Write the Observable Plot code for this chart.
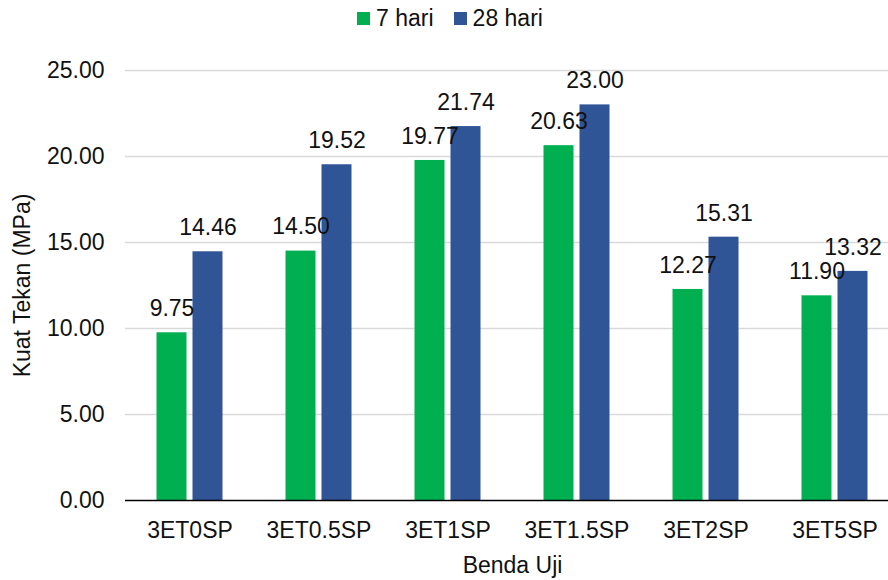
<!DOCTYPE html>
<html>
<head>
<meta charset="utf-8">
<script src="https://cdn.jsdelivr.net/npm/d3@7"></script>
<script src="https://cdn.jsdelivr.net/npm/@observablehq/plot@0.6"></script>
<style>
  html, body { margin: 0; padding: 0; background: #fff; overflow: hidden; }
  #wrap { width: 888px; height: 580px; overflow: hidden; position: relative; font-family: "Liberation Sans", Arial, sans-serif; color: #111; }
  #legend { width: 900px; height: 36px; display: flex; justify-content: center; align-items: center; font-size: 23px; gap: 20px; }
  .item { display: flex; align-items: center; gap: 6px; }
  .sw { width: 13px; height: 13px; display: inline-block; }
  #chart svg { display: block; overflow: visible; max-width: none !important; width: 900px; height: 544px; }
</style>
</head>
<body>
<div id="wrap">
  <div id="legend"></div>
  <div id="chart"></div>
</div>
<script>
const categories = ["3ET0SP", "3ET0.5SP", "3ET1SP", "3ET1.5SP", "3ET2SP", "3ET5SP"];
const series = ["7 hari", "28 hari"];
const values7 = [9.75, 14.50, 19.77, 20.63, 12.27, 11.90];
const values28 = [14.46, 19.52, 21.74, 23.00, 15.31, 13.32];
const yTicks = [0, 5, 10, 15, 20, 25];
const colors = ["#00b050", "#2f5597"];

const data = [];
categories.forEach((c, i) => {
  data.push({cat: c, series: series[0], value: values7[i]});
  data.push({cat: c, series: series[1], value: values28[i]});
});

// legend
const legend = document.getElementById("legend");
series.forEach((s, i) => {
  const it = document.createElement("div");
  it.className = "item";
  const sw = document.createElement("span");
  sw.className = "sw";
  sw.style.background = colors[i];
  const t = document.createElement("span");
  t.textContent = s;
  it.appendChild(sw); it.appendChild(t);
  legend.appendChild(it);
});

const chart = Plot.plot({
  width: 900,
  height: 544,
  marginLeft: 124.5,
  marginRight: 0,
  marginTop: 34,
  marginBottom: 80,
  style: {fontFamily: "'Liberation Sans', Arial, sans-serif", fontSize: "23px", color: "#111", background: "#fff", maxWidth: "none"},
  fx: {domain: categories, padding: 0, label: "Benda Uji", labelAnchor: "center", labelArrow: "none", labelOffset: 72, tickSize: 0, tickPadding: 21},
  x: {domain: series, paddingInner: 0.162, paddingOuter: 0.827, axis: null},
  y: {domain: [0, 25], ticks: yTicks, tickFormat: d3.format(".2f"), tickSize: 0, tickPadding: 21, label: "Kuat Tekan (MPa)", labelAnchor: "center", labelArrow: "none", labelOffset: 112},
  color: {domain: series, range: colors},
  marks: [
    Plot.ruleY(yTicks.filter(d => d > 0), {stroke: "#d9d9d9", strokeWidth: 1.5}),
    Plot.barY(data, {fx: "cat", x: "series", y: "value", fill: "series"}),
    Plot.ruleY([0], {stroke: "#000", strokeWidth: 1.5}),
    Plot.text(data, {fx: "cat", x: "series", y: "value", text: d => d.value.toFixed(2), dy: -24, lineAnchor: "middle", fontSize: 23, fill: "#111"})
  ]
});
document.getElementById("chart").appendChild(chart);
</script>
</body>
</html>
